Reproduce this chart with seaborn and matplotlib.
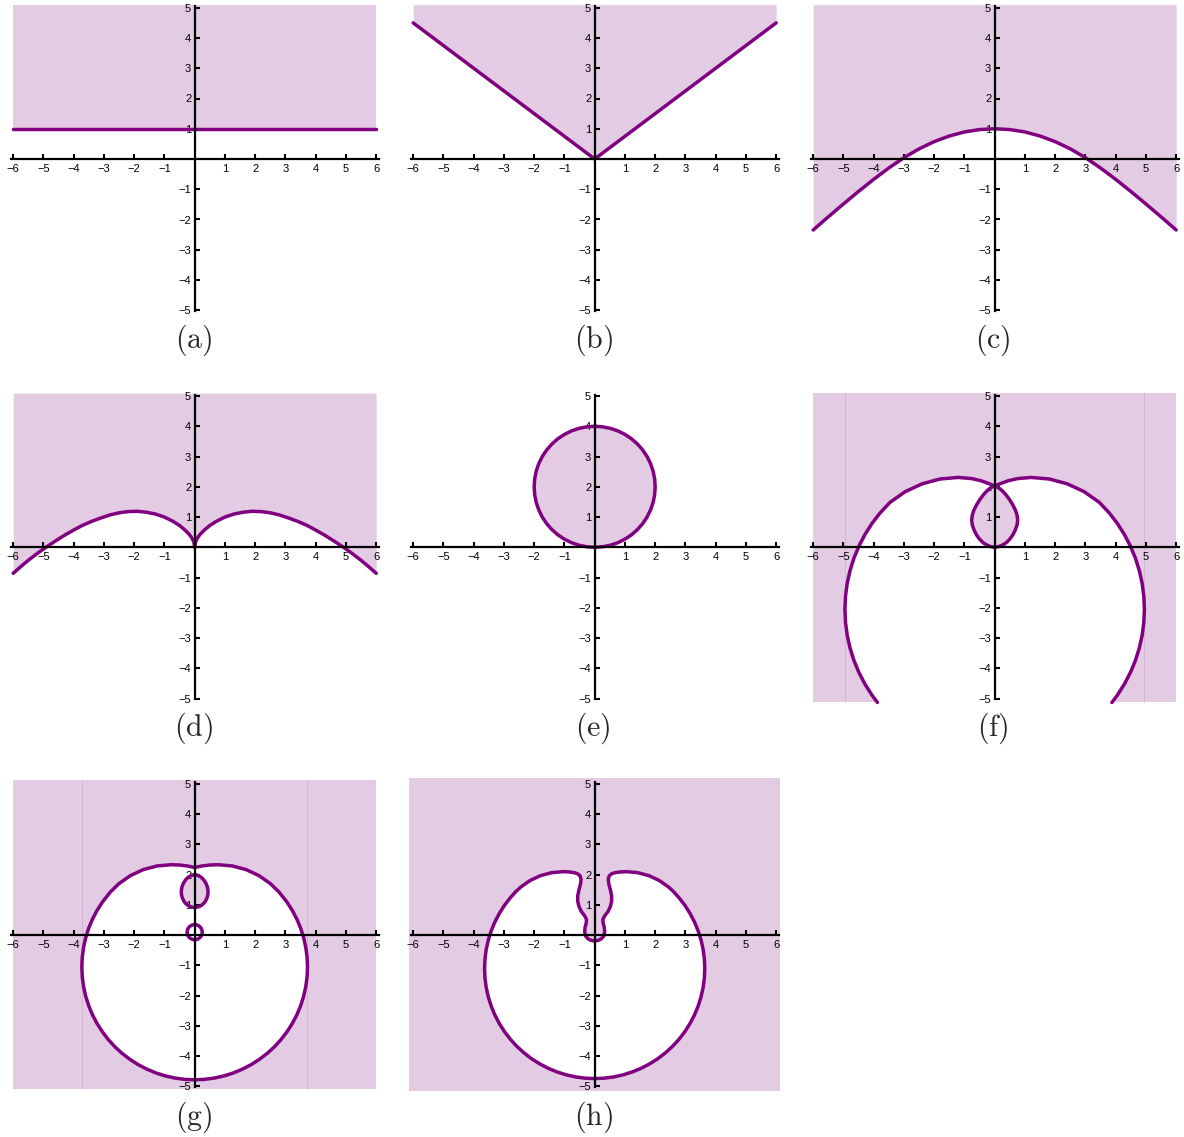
import numpy as np
import pandas as pd
import seaborn as sns
import matplotlib.pyplot as plt

sns.set_style("ticks")
plt.rcParams["font.family"] = ["Liberation Sans", "DejaVu Sans"]
plt.rcParams["mathtext.fontset"] = "cm"

PURPLE = "#800080"
SHADE = "#e3cbe3"
BAND = "#d3b6d3"

# ---- values (right halves, mirrored for the left side) ----
a_x = [-6, 6]
a_y = [1, 1]

b_x_half = [0, 6]
b_y_half = [0, 4.5]

c_x_half = [0, 0.5, 1, 1.5, 2, 2.5, 3, 3.5, 4, 4.5, 5, 5.5, 6]
c_y_half = [1.0, 0.973, 0.894, 0.76, 0.574, 0.335, 0.043, -0.297, -0.672, -1.072, -1.487, -1.912, -2.347]

d_x_half = [0, 0.02, 0.06, 0.12, 0.2, 0.32, 0.5, 0.72, 1.0, 1.3, 1.6, 1.9, 2.2, 2.5, 2.8, 3.1,
            3.4, 3.7, 4.0, 4.3, 4.6, 4.92, 5.2, 5.5, 5.75, 6.0]
d_y_half = [0, 0.14, 0.25, 0.35, 0.45, 0.57, 0.72, 0.86, 1.0, 1.1, 1.16, 1.19, 1.18, 1.14, 1.07, 0.97,
            0.86, 0.73, 0.57, 0.4, 0.21, 0.0, -0.2, -0.43, -0.64, -0.86]

e_x_half = [0, 0.261, 0.518, 0.765, 1.0, 1.218, 1.414, 1.587, 1.732, 1.848, 1.932, 1.983, 2.0,
            1.983, 1.932, 1.848, 1.732, 1.587, 1.414, 1.218, 1.0, 0.765, 0.518, 0.261, 0]
e_y_half = [0, 0.017, 0.068, 0.152, 0.268, 0.413, 0.586, 0.782, 1.0, 1.235, 1.482, 1.739, 2.0,
            2.261, 2.518, 2.765, 3.0, 3.218, 3.414, 3.587, 3.732, 3.848, 3.932, 3.983, 4.0]

f_big_x_half = [0, 0.2, 0.45, 0.75, 1.2, 1.81, 2.4, 2.955, 3.456, 3.792, 4.055, 4.287, 4.486,
                4.652, 4.781, 4.875, 4.931, 4.95, 4.931, 4.875, 4.781, 4.652, 4.486, 4.287,
                4.055, 3.875]
f_big_y_half = [2.03, 2.11, 2.2, 2.27, 2.31, 2.257, 2.098, 1.84, 1.489, 1.132, 0.789, 0.425, 0.042,
                -0.357, -0.769, -1.19, -1.618, -2.05, -2.482, -2.91, -3.331, -3.743, -4.142,
                -4.525, -4.889, -5.13]
f_loop_x_half = [0, 0.12, 0.25, 0.38, 0.5, 0.6, 0.68, 0.74, 0.76, 0.74, 0.69, 0.6, 0.49, 0.37, 0.24,
                 0.11, 0]
f_loop_y_half = [0, 0.02, 0.07, 0.15, 0.27, 0.41, 0.57, 0.74, 0.9, 1.06, 1.22, 1.4, 1.58, 1.74, 1.88,
                 1.98, 2.03]
f_bands = [-4.95, 4.95]

g_big_x_half = [0, 0.25, 0.5, 0.78, 1.247, 1.7, 2.125, 2.509, 2.79, 3.055, 3.23, 3.381, 3.505,
                3.603, 3.673, 3.716, 3.73, 3.716, 3.673, 3.603, 3.505, 3.381, 3.23, 3.055, 2.857,
                2.638, 2.398, 2.139, 1.865, 1.576, 1.276, 0.965, 0.648, 0.325, 0]
g_big_y_half = [2.24, 2.29, 2.32, 2.33, 2.289, 2.168, 1.97, 1.7, 1.425, 1.089, 0.815, 0.526, 0.226,
                -0.085, -0.402, -0.725, -1.05, -1.375, -1.698, -2.015, -2.326, -2.626, -2.915,
                -3.189, -3.448, -3.688, -3.907, -4.105, -4.28, -4.43, -4.555, -4.653, -4.723,
                -4.766, -4.78]
g_loop_x_half = [0, 0.1, 0.2, 0.29, 0.36, 0.41, 0.44, 0.44, 0.42, 0.37, 0.3, 0.21, 0.1, 0]
g_loop_y_half = [0.92, 0.93, 0.97, 1.04, 1.13, 1.24, 1.36, 1.48, 1.6, 1.72, 1.83, 1.92, 1.98, 2.0]
g_ring_x_half = [0, 0.065, 0.125, 0.177, 0.217, 0.241, 0.25, 0.241, 0.217, 0.177, 0.125, 0.065, 0]
g_ring_y_half = [-0.15, -0.141, -0.117, -0.077, -0.025, 0.035, 0.1, 0.165, 0.225, 0.277, 0.317, 0.341, 0.35]
g_bands = [-3.71, 3.71]

h_x_half = [0, 0.12, 0.22, 0.3, 0.33, 0.32, 0.28, 0.27, 0.33, 0.44, 0.52, 0.56, 0.56, 0.52, 0.47,
            0.45, 0.48, 0.56, 0.674, 0.86, 1.05, 1.426, 1.791, 2.133, 2.442, 2.594, 2.788, 2.982,
            3.152, 3.299, 3.42, 3.516, 3.585, 3.626, 3.64, 3.626, 3.585, 3.516, 3.42, 3.299,
            3.152, 2.982, 2.788, 2.574, 2.34, 2.088, 1.82, 1.538, 1.245, 0.942, 0.632, 0.317, 0]
h_y_half = [-0.19, -0.17, -0.12, -0.03, 0.1, 0.25, 0.4, 0.52, 0.64, 0.78, 0.95, 1.12, 1.3, 1.5, 1.68,
            1.85, 1.96, 2.03, 2.067, 2.093, 2.1, 2.067, 1.969, 1.81, 1.593, 1.454, 1.24, 0.988,
            0.72, 0.438, 0.145, -0.158, -0.468, -0.783, -1.1, -1.417, -1.732, -2.042, -2.345,
            -2.638, -2.92, -3.188, -3.44, -3.674, -3.888, -4.082, -4.252, -4.399, -4.52, -4.616,
            -4.685, -4.726, -4.74]

x_ticks = [-6, -5, -4, -3, -2, -1, 1, 2, 3, 4, 5, 6]
y_ticks = [-5, -4, -3, -2, -1, 1, 2, 3, 4, 5]
captions = ["(a)", "(b)", "(c)", "(d)", "(e)", "(f)", "(g)", "(h)"]


def mirror_open(xh, yh):
    """half curve that starts on the y axis -> full symmetric open curve"""
    xs = [-x for x in reversed(xh)] + list(xh[1:])
    ys = list(reversed(yh)) + list(yh[1:])
    return xs, ys


def mirror_closed(xh, yh):
    """half curve between two points of the y axis -> full closed symmetric curve"""
    xs = list(xh) + [-x for x in reversed(xh[:-1])]
    ys = list(yh) + list(reversed(yh[:-1]))
    return xs, ys


def draw_curve(ax, xs, ys):
    df = pd.DataFrame({"x": xs, "y": ys})
    line = sns.lineplot(data=df, x="x", y="y", sort=False, estimator=None, color=PURPLE,
                        lw=2.5, ax=ax, legend=False, zorder=3)
    line.lines[-1].set_solid_joinstyle("round")


def style_axes(ax):
    ax.set_xlim(-6.5, 6.5)
    ax.set_ylim(-5.4, 5.4)
    ax.patch.set_alpha(0)
    ax.spines["top"].set_visible(False)
    ax.spines["right"].set_visible(False)
    ax.spines["bottom"].set_position(("data", 0))
    ax.spines["left"].set_position(("data", 0))
    ax.spines["bottom"].set_bounds(-6.08, 6.08)
    ax.spines["left"].set_bounds(-5.02, 5.05)
    for s in ["bottom", "left"]:
        ax.spines[s].set_linewidth(1.6)
        ax.spines[s].set_color("black")
        ax.spines[s].set_zorder(5)
    ax.set_xticks(x_ticks)
    ax.set_yticks(y_ticks)
    ax.tick_params(direction="in", length=3.4, width=1.5, labelsize=8, colors="black",
                   bottom=True, left=True)
    ax.tick_params(axis="x", pad=3.5)
    ax.tick_params(axis="y", pad=2.5)
    ax.set_axisbelow(False)
    ax.set_xlabel("")
    ax.set_ylabel("")


W, H = 1184, 1137
S = 30.25
origins_x = [194.67, 594.67, 994.67]
origins_y = [159.0, 547.3, 935.2]
caption_y = [340.5, 728.0, 1117.0]

fig = plt.figure(figsize=(W / 100, H / 100), dpi=100)

axes = []
for i in range(8):
    row, col = divmod(i, 3)
    ox, oy = origins_x[col], origins_y[row]
    left = ox - 6.5 * S
    top = oy - 5.4 * S
    ax = fig.add_axes([left / W, 1 - (top + 10.8 * S) / H, 13 * S / W, 10.8 * S / H])
    axes.append(ax)
    fig.text((ox - 1.5) / W, 1 - caption_y[row] / H, r"$\mathrm{" + captions[i] + "}$",
             fontsize=21.5, ha="center", va="center")

# (a)
ax = axes[0]
ax.fill_between([-6, 6], 1, 5.1, color=SHADE, lw=0, zorder=0.5)
draw_curve(ax, a_x, a_y)

# (b)
ax = axes[1]
bx, by = mirror_open(b_x_half, b_y_half)
ax.fill_between(bx, by, 5.1, color=SHADE, lw=0, zorder=0.5)
draw_curve(ax, bx, by)

# (c)
ax = axes[2]
cx, cy = mirror_open(c_x_half, c_y_half)
ax.fill_between(cx, cy, 5.1, color=SHADE, lw=0, zorder=0.5)
draw_curve(ax, cx, cy)

# (d)
ax = axes[3]
dx, dy = mirror_open(d_x_half, d_y_half)
ax.fill_between(dx, dy, 5.1, color=SHADE, lw=0, zorder=0.5)
draw_curve(ax, dx, dy)

# (e)
ax = axes[4]
ex, ey = mirror_closed(e_x_half[::-1], e_y_half[::-1])
ax.fill(ex, ey, color=SHADE, lw=0, zorder=0.5)
draw_curve(ax, ex, ey)

# (f)
ax = axes[5]
ax.fill_between([-6, 6], -5.13, 5.1, color=SHADE, lw=0, zorder=0.5)
ax.vlines(f_bands, -5.13, 5.1, color=BAND, lw=0.7, zorder=0.6)
fx, fy = mirror_open(f_big_x_half, f_big_y_half)
ax.fill(fx, fy, color="white", lw=0, zorder=0.7)
flx, fly = mirror_closed(f_loop_x_half[::-1], f_loop_y_half[::-1])
ax.fill(flx, fly, color=SHADE, lw=0, zorder=0.8)
draw_curve(ax, fx, fy)
draw_curve(ax, flx, fly)

# (g)
ax = axes[6]
ax.fill_between([-6, 6], -5.08, 5.13, color=SHADE, lw=0, zorder=0.5)
ax.vlines(g_bands, -5.08, 5.13, color=BAND, lw=0.7, zorder=0.6)
gx, gy = mirror_closed(g_big_x_half, g_big_y_half)
ax.fill(gx, gy, color="white", lw=0, zorder=0.7)
glx, gly = mirror_closed(g_loop_x_half[::-1], g_loop_y_half[::-1])
ax.fill(glx, gly, color=SHADE, lw=0, zorder=0.8)
grx, gry = mirror_closed(g_ring_x_half[::-1], g_ring_y_half[::-1])
draw_curve(ax, gx, gy)
draw_curve(ax, glx, gly)
draw_curve(ax, grx, gry)

# (h)
ax = axes[7]
ax.fill_between([-6.15, 6.13], -5.14, 5.2, color=SHADE, lw=0, zorder=0.5)
hx, hy = mirror_closed(h_x_half[::-1], h_y_half[::-1])
ax.fill(hx, hy, color="white", lw=0, zorder=0.7)
draw_curve(ax, hx, hy)

for ax in axes:
    style_axes(ax)

fig.savefig("out.png", dpi=100)
plt.close(fig)
